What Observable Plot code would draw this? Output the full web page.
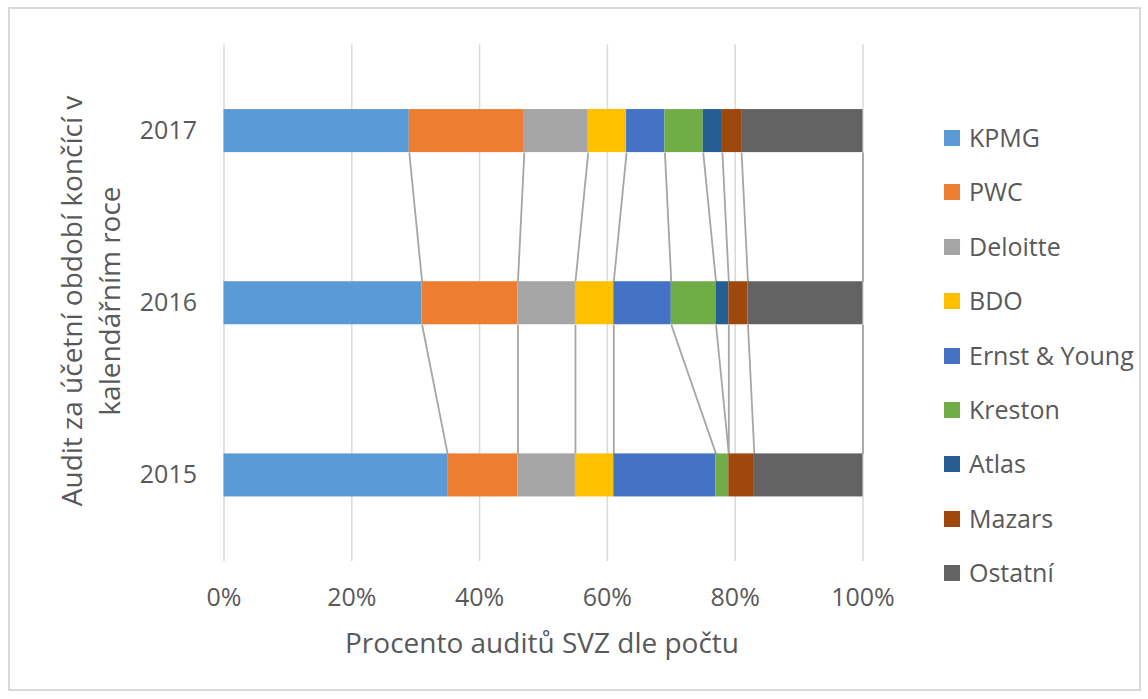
<!DOCTYPE html>
<html><head><meta charset="utf-8">
<script src="https://cdn.jsdelivr.net/npm/d3@7"></script>
<script src="https://cdn.jsdelivr.net/npm/@observablehq/plot@0.6"></script>
<style>
body{margin:0;background:#fff;font-family:"Open Sans",Lato,sans-serif;color:#595959}
#wrap{position:relative;width:1148px;height:699px;overflow:hidden;background:#fff}
#frame{position:absolute;left:8px;top:7px;width:1129px;height:680px;border:2px solid #d9d9d9}
#chart{position:absolute;left:0;top:0}
#ytitle{position:absolute;left:90px;top:301px;width:520px;transform:translate(-50%,-50%) rotate(-90deg);text-align:center;font-size:28px;line-height:38px;white-space:nowrap}
#xtitle{position:absolute;left:542px;top:627px;transform:translateX(-50%);font-size:28px;line-height:30px;white-space:nowrap}
.li{position:absolute;left:944px;height:26px;font-size:25px;line-height:26px;white-space:nowrap}
.sw{position:absolute;left:0;top:5px;width:16px;height:16px}
.lt{position:absolute;left:25px;top:-1px}
</style></head><body>
<div id="wrap"><div id="frame"></div><div id="chart"></div>
<div id="ytitle">Audit za účetní období končící v<br>kalendářním roce</div>
<div id="xtitle">Procento auditů SVZ dle počtu</div>
<div id="legend"></div></div>
<script>
const years = ["2017","2016","2015"];
const firms = ["KPMG","PWC","Deloitte","BDO","Ernst & Young","Kreston","Atlas","Mazars","Ostatní"];
const colors = ["#5B9BD5","#ED7D31","#A5A5A5","#FFC000","#4472C4","#70AD47","#255E91","#9E480E","#636363"];
const share2017 = [29,18,10,6,6,6,3,3,19];
const share2016 = [31,15,9,6,9,7,2,3,18];
const share2015 = [35,11,9,6,16,2,0,4,17];
const xTicks = [0,20,40,60,80,100];

const shares = [share2017, share2016, share2015];
const half = 0.125;
const segs = [];
const ends = shares.map(() => []);
shares.forEach((arr, i) => {
  let c = 0;
  arr.forEach((v, j) => {
    segs.push({year: i, firm: firms[j], x1: c, x2: c + v});
    c += v;
    ends[i].push(c);
  });
});
const links = [];
for (let i = 0; i < shares.length - 1; i++) {
  firms.forEach((f, j) => {
    links.push({x1: ends[i][j], y1: i + half, x2: ends[i+1][j], y2: i + 1 - half});
  });
}

const chart = Plot.plot({
  width: 1148, height: 699,
  marginLeft: 223.5, marginRight: 285.5, marginTop: 44.5, marginBottom: 138,
  style: {fontFamily: '"Open Sans", Lato, sans-serif', color: "#595959", background: "transparent"},
  x: {domain: [0, 100]},
  y: {domain: [2.5, -0.5]},
  color: {domain: firms, range: colors},
  marks: [
    Plot.ruleX(xTicks, {y1: -0.5, y2: 2.5, stroke: "#d9d9d9", strokeWidth: 1.5}),
    Plot.link(links, {x1: "x1", y1: "y1", x2: "x2", y2: "y2", stroke: "#a6a6a6", strokeWidth: 1.8}),
    Plot.rect(segs, {x1: "x1", x2: "x2", y1: d => d.year - half, y2: d => d.year + half, fill: "firm"}),
    Plot.axisX(xTicks, {tickSize: 0, tickPadding: 27, fontSize: 25, tickFormat: d => d + "%", label: null}),
    Plot.axisY([0,1,2], {tickSize: 0, tickPadding: 27, fontSize: 25, tickFormat: i => years[i], label: null})
  ]
});
document.getElementById("chart").appendChild(chart);

const legend = document.getElementById("legend");
firms.forEach((f, j) => {
  const d = document.createElement("div");
  d.className = "li";
  d.style.top = (138 + j * 54.4 - 13) + "px";
  d.innerHTML = `<div class="sw" style="background:${colors[j]}"></div><div class="lt"></div>`;
  d.querySelector(".lt").textContent = f;
  legend.appendChild(d);
});
</script>
</body></html>
